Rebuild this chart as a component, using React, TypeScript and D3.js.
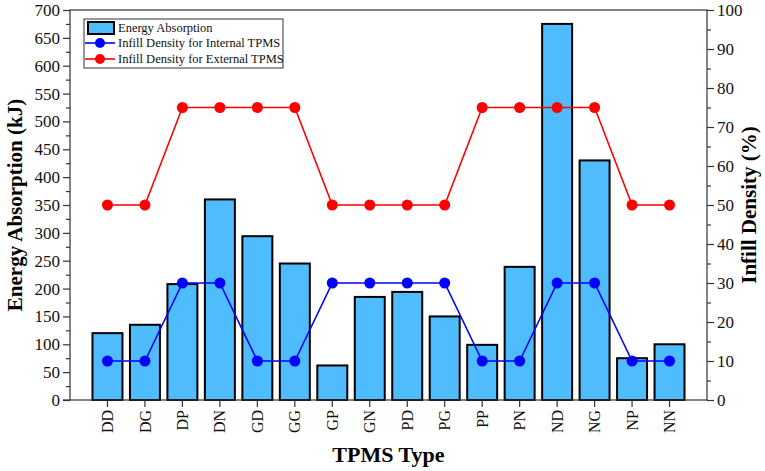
import React, { useEffect, useRef } from "react";
import * as d3 from "d3";

const types = ["DD", "DG", "DP", "DN", "GD", "GG", "GP", "GN", "PD", "PG", "PP", "PN", "ND", "NG", "NP", "NN"];
const energy = [120, 135, 208, 360, 294, 245, 62, 185, 194, 150, 99, 239, 675, 430, 75, 100];
const internalDensity = [10, 10, 30, 30, 10, 10, 30, 30, 30, 30, 10, 10, 30, 30, 10, 10];
const externalDensity = [50, 50, 75, 75, 75, 75, 50, 50, 50, 50, 75, 75, 75, 75, 50, 50];

const W = 765;
const H = 471;
const m = { left: 70, right: 58, top: 10, bottom: 71 };
const FONT = "'Liberation Serif', 'Times New Roman', serif";
const BAR = "#4fbdfd";

export default function App() {
  const ref = useRef<SVGSVGElement>(null);

  useEffect(() => {
    const svg = d3.select(ref.current);
    svg.selectAll("*").remove();
    const x0 = m.left, x1 = W - m.right, y0 = H - m.bottom, y1 = m.top;

    const x = d3.scaleBand().domain(types).range([x0, x1]).paddingInner(0.2).paddingOuter(0.6);
    const yL = d3.scaleLinear().domain([0, 700]).range([y0, y1]);
    const yR = d3.scaleLinear().domain([0, 100]).range([y0, y1]);

    // bars
    svg.append("g").selectAll("rect").data(energy).enter().append("rect")
      .attr("x", (d, i) => x(types[i])!)
      .attr("y", d => yL(d))
      .attr("width", x.bandwidth())
      .attr("height", d => y0 - yL(d))
      .attr("fill", BAR)
      .attr("stroke", "#000")
      .attr("stroke-width", 2);

    // density lines
    const series = [
      { values: internalDensity, color: "#0000ff" },
      { values: externalDensity, color: "#ff0000" },
    ];
    series.forEach(s => {
      const line = d3.line<number>()
        .x((d, i) => x(types[i])! + x.bandwidth() / 2)
        .y(d => yR(d));
      svg.append("path").datum(s.values)
        .attr("d", line)
        .attr("fill", "none")
        .attr("stroke", s.color)
        .attr("stroke-width", 1.6);
      svg.append("g").selectAll("circle").data(s.values).enter().append("circle")
        .attr("cx", (d, i) => x(types[i])! + x.bandwidth() / 2)
        .attr("cy", d => yR(d))
        .attr("r", 5.5)
        .attr("fill", s.color);
    });

    // frame
    svg.append("rect")
      .attr("x", x0).attr("y", y1).attr("width", x1 - x0).attr("height", y0 - y1)
      .attr("fill", "none").attr("stroke", "#333").attr("stroke-width", 1.2);

    const styleAxis = (g: any, size: number) => {
      g.select(".domain").remove();
      g.selectAll("line").attr("stroke", "#333").attr("stroke-width", 1.2);
      g.selectAll("text").attr("font-family", FONT).attr("font-size", size).attr("fill", "#111");
    };

    // left axis, with minor ticks
    const gl = svg.append("g").attr("transform", `translate(${x0},0)`)
      .call(d3.axisLeft(yL).tickValues(d3.range(0, 701, 50)).tickSize(7).tickPadding(3));
    styleAxis(gl, 17);
    svg.append("g").attr("transform", `translate(${x0},0)`)
      .call(d3.axisLeft(yL).tickValues(d3.range(25, 700, 50)).tickSize(4).tickFormat(() => ""))
      .call(g => styleAxis(g, 17));

    // right axis
    const gr = svg.append("g").attr("transform", `translate(${x1},0)`)
      .call(d3.axisRight(yR).tickValues(d3.range(0, 101, 10)).tickSize(7).tickPadding(3));
    styleAxis(gr, 17);
    svg.append("g").attr("transform", `translate(${x1},0)`)
      .call(d3.axisRight(yR).tickValues(d3.range(5, 100, 10)).tickSize(4).tickFormat(() => ""))
      .call(g => styleAxis(g, 17));

    // bottom axis with rotated labels
    const gb = svg.append("g").attr("transform", `translate(0,${y0})`)
      .call(d3.axisBottom(x).tickSize(7).tickPadding(3));
    styleAxis(gb, 16);
    gb.selectAll("text")
      .attr("transform", "rotate(-90)")
      .attr("text-anchor", "end")
      .attr("dy", "0.35em")
      .attr("x", -10)
      .attr("y", 0);
    svg.append("line").attr("x1", x0 - 7).attr("x2", x0).attr("y1", y0).attr("y2", y0)
      .attr("stroke", "#333").attr("stroke-width", 1.2);

    // axis titles
    svg.append("text").attr("x", (x0 + x1) / 2).attr("y", 462)
      .attr("text-anchor", "middle").attr("font-family", FONT).attr("font-weight", "bold")
      .attr("font-size", 22).text("TPMS Type");
    svg.append("text").attr("transform", `translate(22,${(y0 + y1) / 2}) rotate(-90)`)
      .attr("text-anchor", "middle").attr("font-family", FONT).attr("font-weight", "bold")
      .attr("font-size", 21).text("Energy Absorption (kJ)");
    svg.append("text").attr("transform", `translate(756,${(y0 + y1) / 2}) rotate(-90)`)
      .attr("text-anchor", "middle").attr("font-family", FONT).attr("font-weight", "bold")
      .attr("font-size", 21).text("Infill Density (%)");

    // legend
    const lg = svg.append("g");
    lg.append("rect").attr("x", 84).attr("y", 19).attr("width", 199).attr("height", 49)
      .attr("fill", "#fff").attr("stroke", "#333").attr("stroke-width", 1);
    lg.append("rect").attr("x", 88).attr("y", 22).attr("width", 26).attr("height", 12)
      .attr("fill", BAR).attr("stroke", "#000").attr("stroke-width", 2);
    const legendItems = [
      { label: "Energy Absorption", y: 28 },
      { label: "Infill Density for Internal TPMS", y: 43, color: "#0000ff" },
      { label: "Infill Density for External TPMS", y: 59, color: "#ff0000" },
    ];
    legendItems.forEach(it => {
      if (it.color) {
        lg.append("line").attr("x1", 85).attr("x2", 115).attr("y1", it.y).attr("y2", it.y)
          .attr("stroke", it.color).attr("stroke-width", 1.6);
        lg.append("circle").attr("cx", 100).attr("cy", it.y).attr("r", 5).attr("fill", it.color);
      }
      lg.append("text").attr("x", 118).attr("y", it.y).attr("dy", "0.35em")
        .attr("font-family", FONT).attr("font-size", 12.5).attr("fill", "#111").text(it.label);
    });
  }, []);

  return (
    <svg ref={ref} width={W} height={H}
      style={{ position: "absolute", left: 0, top: 0, background: "#fff" }} />
  );
}
